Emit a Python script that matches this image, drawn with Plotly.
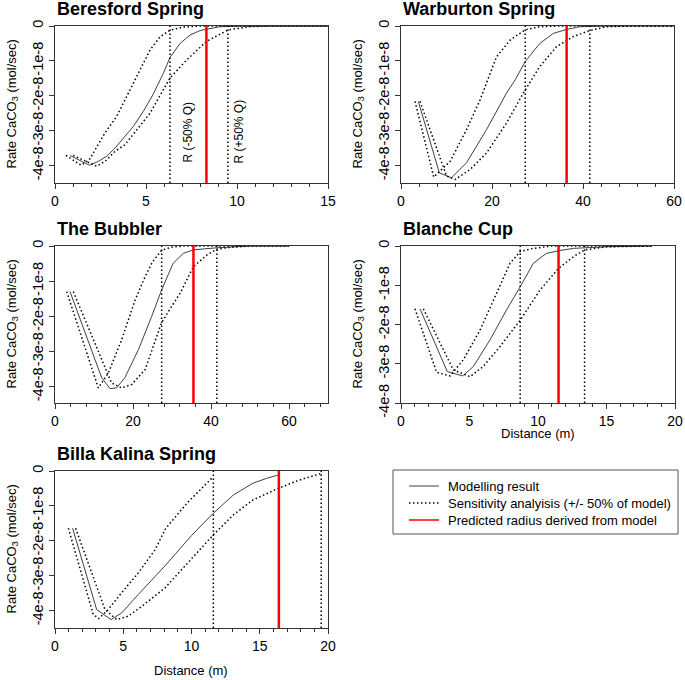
import plotly.graph_objects as go

E = 1e-8  # y values below are in units of 1e-8 mol/sec

# ---------- Beresford Spring ----------
ber_x_model = [0.82, 1.89, 2.38, 2.84, 3.3, 3.8, 4.3, 4.85, 5.4, 5.95, 6.32, 6.87, 7.42, 7.97, 8.33, 9.07, 10, 11, 15]
ber_y_model = [-3.71, -3.99, -3.88, -3.73, -3.5, -3.2, -2.88, -2.45, -1.95, -1.36, -0.9, -0.5, -0.26, -0.13, -0.09, -0.02, -0.01, 0, 0]
ber_x_low = [0.6, 1.43, 1.88, 2.2, 2.75, 3.39, 4.3, 5.22, 5.77, 6.32, 7.05, 8, 15]
ber_y_low = [-3.71, -3.99, -3.84, -3.54, -3.06, -2.59, -1.64, -0.69, -0.31, -0.12, -0.03, 0, 0]
ber_x_high = [1.0, 2.29, 2.75, 3.3, 3.85, 4.3, 5.22, 6.32, 7.24, 8.33, 9.52, 10.7, 12, 15]
ber_y_high = [-3.71, -4.02, -3.88, -3.59, -3.4, -3.1, -2.5, -1.49, -0.97, -0.44, -0.11, -0.02, 0, 0]
ber_r_low, ber_r_high, ber_r_pred = 6.32, 9.5, 8.32

# ---------- Warburton Spring ----------
war_x_model = [3.8, 8.43, 11.1, 14.4, 18.8, 23.2, 25.1, 27.3, 30.5, 33.5, 36.4, 39.3, 45, 60]
war_y_model = [-2.16, -4.21, -4.35, -3.92, -2.97, -1.92, -1.54, -1.02, -0.5, -0.21, -0.1, -0.02, 0, 0]
war_x_low = [3.08, 7.2, 8.94, 10.8, 14.4, 17.4, 21.0, 24.0, 27.3, 30.5, 35, 60]
war_y_low = [-2.16, -4.33, -4.11, -3.88, -2.97, -2.11, -0.88, -0.4, -0.11, -0.02, 0, 0]
war_x_high = [4.18, 10.0, 11.9, 15.2, 18.8, 23.2, 26.9, 30.5, 34.2, 37.9, 41.5, 45.2, 50, 60]
war_y_high = [-2.16, -4.3, -4.4, -4.11, -3.64, -2.78, -1.92, -1.16, -0.59, -0.3, -0.13, -0.02, 0, 0]
war_r_low, war_r_high, war_r_pred = 27.3, 41.5, 36.4

# ---------- The Bubbler ----------
bub_x_model = [3.85, 11.97, 14.1, 15.8, 17.9, 21.4, 24.8, 27.35, 30.3, 32.9, 35.5, 41.5, 50, 60]
bub_y_model = [-1.3, -3.75, -4.06, -4.04, -3.75, -2.95, -2.0, -1.25, -0.49, -0.21, -0.11, -0.05, 0, 0]
bub_x_low = [3.0, 11.1, 13.7, 17.1, 20.5, 23.0, 25.0, 27.35, 30, 33, 60]
bub_y_low = [-1.3, -4.04, -3.61, -2.67, -1.55, -0.9, -0.45, -0.12, -0.03, 0, 0]
bub_x_high = [4.7, 14.5, 17.1, 19.7, 23.1, 27.3, 29.9, 32.1, 35.5, 38.9, 41.5, 44.7, 50, 60]
bub_y_high = [-1.3, -3.9, -4.04, -3.94, -3.52, -2.19, -1.72, -1.34, -0.59, -0.26, -0.09, -0.04, 0, 0]
bub_r_low, bub_r_high, bub_r_pred = 27.35, 41.5, 35.5

# ---------- Blanche Cup ----------
bla_x_model = [1.39, 3.38, 4.5, 5.28, 6.5, 7.7, 8.7, 9.66, 10.6, 11.5, 12.6, 15, 18.3]
bla_y_model = [-1.6, -3.2, -3.31, -3.07, -2.39, -1.63, -1.04, -0.44, -0.19, -0.12, -0.06, -0.02, 0]
bla_x_low = [1.02, 2.6, 3.58, 4.55, 5.77, 6.98, 7.96, 8.7, 9.66, 11, 18.3]
bla_y_low = [-1.6, -3.22, -3.31, -2.9, -2.14, -1.2, -0.44, -0.14, -0.06, 0, 0]
bla_x_high = [1.63, 3.82, 5.04, 6.0, 7.23, 8.7, 10.15, 11.5, 12.6, 13.4, 15, 18.3]
bla_y_high = [-1.6, -3.16, -3.33, -3.07, -2.56, -1.89, -1.12, -0.57, -0.27, -0.1, -0.02, 0]
bla_r_low, bla_r_high, bla_r_pred = 8.7, 13.4, 11.5

# ---------- Billa Kalina Spring ----------
bil_x_model = [1.29, 3.05, 4.1, 4.88, 6.1, 8.1, 10.0, 11.6, 13.06, 14.5, 15.5, 16.4]
bil_y_model = [-1.64, -3.97, -4.26, -4.07, -3.54, -2.7, -1.85, -1.21, -0.69, -0.35, -0.21, -0.11]
bil_x_low = [0.98, 2.8, 3.2, 3.9, 4.88, 6.1, 7.33, 8.1, 9.67, 10.6, 11.6]
bil_y_low = [-1.64, -4.11, -4.23, -3.97, -3.49, -2.92, -2.26, -1.65, -0.92, -0.54, -0.16]
bil_x_high = [1.51, 3.66, 4.52, 5.37, 6.35, 8.06, 11.6, 13.06, 14.5, 16.4, 17.9, 19.5]
bil_y_high = [-1.64, -3.97, -4.26, -4.16, -3.88, -3.35, -1.83, -1.26, -0.83, -0.49, -0.26, -0.07]
bil_r_low, bil_r_high, bil_r_pred = 11.6, 19.5, 16.4

panel_titles = ["Beresford Spring", "Warburton Spring", "The Bubbler", "Blanche Cup", "Billa Kalina Spring"]
y_tick_vals = [0, -1, -2, -3, -4]
y_tick_text = ["0", "-1e-8", "-2e-8", "-3e-8", "-4e-8"]
legend_names = ["Modelling result", "Sensitivity analyisis (+/- 50% of model)", "Predicted radius derived from model"]

panels = [
    dict(xm=ber_x_model, ym=ber_y_model, xl=ber_x_low, yl=ber_y_low, xh=ber_x_high, yh=ber_y_high,
         r=(ber_r_low, ber_r_high, ber_r_pred), xr=[0, 15], yr=[-4.5, 0], dt=5, mdt=1),
    dict(xm=war_x_model, ym=war_y_model, xl=war_x_low, yl=war_y_low, xh=war_x_high, yh=war_y_high,
         r=(war_r_low, war_r_high, war_r_pred), xr=[0, 60], yr=[-4.5, 0], dt=20, mdt=4),
    dict(xm=bub_x_model, ym=bub_y_model, xl=bub_x_low, yl=bub_y_low, xh=bub_x_high, yh=bub_y_high,
         r=(bub_r_low, bub_r_high, bub_r_pred), xr=[0, 70], yr=[-4.47, 0], dt=20, mdt=4),
    dict(xm=bla_x_model, ym=bla_y_model, xl=bla_x_low, yl=bla_y_low, xh=bla_x_high, yh=bla_y_high,
         r=(bla_r_low, bla_r_high, bla_r_pred), xr=[0, 20], yr=[-4.0, 0], dt=5, mdt=1),
    dict(xm=bil_x_model, ym=bil_y_model, xl=bil_x_low, yl=bil_y_low, xh=bil_x_high, yh=bil_y_high,
         r=(bil_r_low, bil_r_high, bil_r_pred), xr=[0, 20], yr=[-4.5, 0], dt=5, mdt=1),
]

W, H = 685, 680
def px_x(p): return p / W
def px_y(p): return 1 - p / H

boxes = [(55, 328, 26, 183), (401, 674, 26, 183),
         (55, 328, 246, 403), (401, 675, 246, 403),
         (55, 328, 471, 628)]

FONT = "Arial, Liberation Sans, sans-serif"
DOT = "1.5px,2.5px"

fig = go.Figure()
layout = dict(width=W, height=H, margin=dict(l=0, r=0, t=0, b=0, pad=0, autoexpand=False),
              paper_bgcolor="white", plot_bgcolor="white",
              font=dict(family=FONT, size=13, color="black"),
              showlegend=False)
annotations = []
shapes = []

for i, (p, b) in enumerate(zip(panels, boxes)):
    n = "" if i == 0 else str(i + 1)
    xa, ya = "x" + n, "y" + n
    yb = p["yr"][0] * E
    fig.add_trace(go.Scatter(x=p["xm"], y=[v * E for v in p["ym"]], mode="lines",
                             line=dict(color="#404040", width=1), xaxis=xa, yaxis=ya,
                             name=legend_names[0]))
    fig.add_trace(go.Scatter(x=p["xl"], y=[v * E for v in p["yl"]], mode="lines",
                             line=dict(color="black", width=1.5, dash=DOT), xaxis=xa, yaxis=ya,
                             name=legend_names[1]))
    fig.add_trace(go.Scatter(x=p["xh"], y=[v * E for v in p["yh"]], mode="lines",
                             line=dict(color="black", width=1.5, dash=DOT), xaxis=xa, yaxis=ya,
                             name=legend_names[1]))
    for rv in p["r"][:2]:
        fig.add_trace(go.Scatter(x=[rv, rv], y=[yb, 0], mode="lines",
                                 line=dict(color="black", width=1.5, dash=DOT), xaxis=xa, yaxis=ya,
                                 hoverinfo="skip"))
    fig.add_trace(go.Scatter(x=[p["r"][2]] * 2, y=[yb, 0], mode="lines",
                             line=dict(color="#ff0000", width=2.5), xaxis=xa, yaxis=ya,
                             name=legend_names[2]))

    layout["xaxis" + n] = dict(domain=[px_x(b[0]), px_x(b[1])], anchor=ya, range=p["xr"],
                               showline=True, linecolor="#333", linewidth=1, mirror=True,
                               ticks="outside", ticklen=5, tickwidth=1, tickcolor="#333",
                               dtick=p["dt"], tick0=0, showgrid=False, zeroline=False,
                               automargin=False, tickfont=dict(size=14),
                               minor=dict(ticks="outside", ticklen=3, tickwidth=1, tickcolor="#333",
                                          dtick=p["mdt"]))
    layout["yaxis" + n] = dict(domain=[px_y(b[3]), px_y(b[2])], anchor=xa, range=[yb, 0],
                               showline=True, linecolor="#333", linewidth=1, mirror=True,
                               ticks="outside", ticklen=5, tickwidth=1, tickcolor="#333",
                               tickvals=[v * E for v in y_tick_vals], ticktext=y_tick_text,
                               tickangle=-90, showgrid=False, zeroline=False,
                               automargin=False, tickfont=dict(size=14.5))
    annotations.append(dict(text="<b>" + panel_titles[i] + "</b>", xref="paper", yref="paper",
                            x=px_x(b[0]), y=px_y(b[2] - 17), xanchor="left", yanchor="middle",
                            showarrow=False, font=dict(size=18, family=FONT)))
    annotations.append(dict(text="Rate CaCO<sub>3</sub> (mol/sec)", xref="paper", yref="paper",
                            x=px_x(b[0] - 43), y=px_y((b[2] + b[3]) / 2), textangle=-90,
                            xanchor="center", yanchor="middle", showarrow=False,
                            font=dict(size=13, family=FONT)))

annotations.append(dict(text="Distance (m)", xref="paper", yref="paper", x=px_x(538), y=px_y(434),
                        xanchor="center", yanchor="middle", showarrow=False, font=dict(size=13)))
annotations.append(dict(text="Distance (m)", xref="paper", yref="paper", x=px_x(191), y=px_y(670),
                        xanchor="center", yanchor="middle", showarrow=False, font=dict(size=13)))
annotations.append(dict(text="R (-50% Q)", xref="x", yref="y", x=7.3, y=-3.03e-8, textangle=-90,
                        showarrow=False, font=dict(size=12)))
annotations.append(dict(text="R (+50% Q)", xref="x", yref="y", x=10.1, y=-3.03e-8, textangle=-90,
                        showarrow=False, font=dict(size=12)))

# legend drawn as a framed key (box 393..678 x 470..534)
shapes.append(dict(type="rect", xref="paper", yref="paper", x0=px_x(393), x1=px_x(678),
                   y0=px_y(534), y1=px_y(470), line=dict(color="#555", width=1), fillcolor="white",
                   layer="above"))
leg_rows = [486, 503, 520]
leg_styles = [dict(color="#404040", width=1), dict(color="black", width=1.5, dash=DOT),
              dict(color="#ff0000", width=1.5)]
for yy, st, name in zip(leg_rows, leg_styles, legend_names):
    shapes.append(dict(type="line", xref="paper", yref="paper", x0=px_x(409), x1=px_x(439),
                       y0=px_y(yy), y1=px_y(yy), line=st, layer="above"))
    annotations.append(dict(text=name, xref="paper", yref="paper", x=px_x(446), y=px_y(yy),
                            xanchor="left", yanchor="middle", showarrow=False,
                            font=dict(size=13, family=FONT)))

layout["annotations"] = annotations
layout["shapes"] = shapes
fig.update_layout(**layout)
fig.write_html("out.html", config={"displayModeBar": False, "staticPlot": True},
               post_script="document.body.style.margin='0px';")
